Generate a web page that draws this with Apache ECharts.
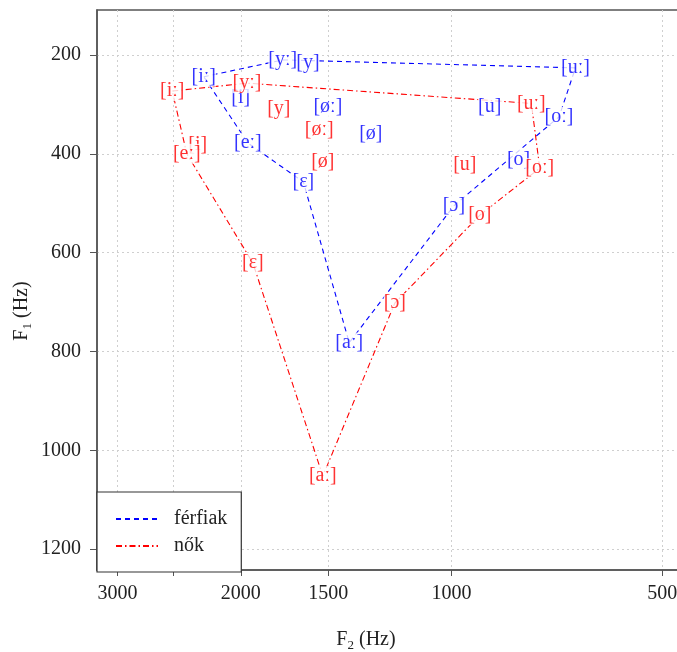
<!DOCTYPE html>
<html>
<head>
<meta charset="utf-8">
<script src="https://cdn.jsdelivr.net/npm/echarts@6/dist/echarts.min.js"></script>
<style>
  html, body { margin: 0; padding: 0; background: #fff; }
  #chart { width: 677px; height: 652px; }
</style>
</head>
<body>
<div id="chart"></div>
<script>
// Hungarian vowel formants: F2 and F1 in Hz, for men and women
const vowels = ['iː', 'i', 'yː', 'y', 'eː', 'ɛ', 'øː', 'ø', 'uː', 'u', 'oː', 'o', 'ɔ', 'aː'];

const menF2 = [2259, 2000, 1742, 1604, 1954, 1628, 1502, 1304, 665, 882, 702, 802, 992, 1400];
const menF1 = [244, 287, 210, 216, 378, 457, 305, 360, 226, 305, 325, 412, 505, 782];

const womenF2 = [2506, 2304, 1960, 1765, 2389, 1922, 1545, 1527, 769, 957, 748, 911, 1205, 1527];
const womenF1 = [273, 382, 257, 309, 400, 621, 352, 416, 298, 423, 429, 524, 702, 1052];

// vowel outlines, traced in order and closed
const menOutline = ['iː', 'yː', 'uː', 'oː', 'ɔ', 'aː', 'ɛ', 'eː', 'iː'];
const womenOutline = ['iː', 'yː', 'uː', 'oː', 'o', 'ɔ', 'aː', 'ɛ', 'eː', 'iː'];

const groupNames = ['férfiak', 'nők'];

// axis ticks
const f2Ticks = [500, 1000, 1500, 2000, 2500, 3000];
const f2Labels = [500, 1000, 1500, 2000, 3000];
const f1Ticks = [200, 400, 600, 800, 1000, 1200];

const BLUE = '#0000ff';
const RED = '#ff0000';
const FONT = '"Liberation Serif", "Times New Roman", serif';

function outlinePoints(order, f2, f1) {
  return order.map(v => {
    const k = vowels.indexOf(v);
    return [f2[k], f1[k]];
  });
}
function labelPoints(f2, f1) {
  return vowels.map((v, k) => ({ value: [f2[k], f1[k]], name: '[' + v + ']' }));
}

function labelSeries(name, f2, f1, color) {
  return {
    name: name,
    type: 'scatter',
    z: 4,
    symbolSize: 0,
    silent: true,
    data: labelPoints(f2, f1),
    label: {
      show: true,
      position: 'inside',
      formatter: p => p.name,
      color: color,
      fontFamily: FONT,
      fontSize: 20,
      backgroundColor: '#fff',
      padding: [0, 0, 0, 0]
    },
    labelLayout: { hideOverlap: false }
  };
}

const plain = v => String(v);

const chart = echarts.init(document.getElementById('chart'), null, { renderer: 'canvas' });

chart.setOption({
  animation: false,
  backgroundColor: '#fff',
  grid: {
    left: 97, top: 10, width: 584, height: 560,
    outerBoundsMode: 'none',
    containLabel: false,
    show: true, borderColor: '#555', borderWidth: 1.5, backgroundColor: 'transparent'
  },
  xAxis: {
    type: 'log',
    inverse: true,
    min: 470, max: 3210,
    axisLine: { show: true, lineStyle: { color: '#555', width: 1.5 } },
    axisTick: { show: true, length: 6, customValues: f2Ticks, lineStyle: { color: '#555' } },
    axisLabel: { customValues: f2Labels, formatter: plain, margin: 14, color: '#222', fontFamily: FONT, fontSize: 20 },
    splitLine: { show: true, lineStyle: { color: '#cfcfcf', type: [2, 3], width: 1 } },
    minorTick: { show: false }
  },
  yAxis: {
    type: 'value',
    inverse: true,
    min: 109, max: 1242,
    axisLine: { show: true, lineStyle: { color: '#555', width: 1.5 } },
    axisTick: { show: true, length: 7, customValues: f1Ticks, lineStyle: { color: '#555' } },
    axisLabel: { customValues: f1Ticks, formatter: plain, margin: 16, color: '#222', fontFamily: FONT, fontSize: 20 },
    splitLine: { show: true, lineStyle: { color: '#cfcfcf', type: [2, 3], width: 1 } }
  },
  legend: {
    data: groupNames,
    orient: 'vertical',
    left: 97, top: 492,
    backgroundColor: '#fff',
    borderColor: '#333', borderWidth: 1.2,
    padding: [17, 14, 16, 18],
    itemWidth: 42, itemHeight: 14, itemGap: 7,
    itemStyle: { color: 'transparent', borderWidth: 0, opacity: 0 },
    textStyle: { fontFamily: FONT, fontSize: 20, color: '#222', padding: [0, 0, 0, 11] }
  },
  graphic: [
    {
      type: 'text', x: 366, y: 640,
      style: {
        text: '{a|F}{s|2}{a| (Hz)}',
        align: 'center', verticalAlign: 'middle',
        rich: {
          a: { fontFamily: FONT, fontSize: 20, lineHeight: 24, fill: '#222' },
          s: { fontFamily: FONT, fontSize: 13, lineHeight: 13, verticalAlign: 'bottom', fill: '#222' }
        }
      }
    },
    {
      type: 'text', x: 22, y: 311, rotation: Math.PI / 2,
      style: {
        text: '{a|F}{s|1}{a| (Hz)}',
        align: 'center', verticalAlign: 'middle',
        rich: {
          a: { fontFamily: FONT, fontSize: 20, lineHeight: 24, fill: '#222' },
          s: { fontFamily: FONT, fontSize: 13, lineHeight: 13, verticalAlign: 'bottom', fill: '#222' }
        }
      }
    }
  ],
  series: [
    {
      name: groupNames[0],
      type: 'line',
      z: 2,
      symbol: 'none',
      color: BLUE,
      lineStyle: { color: BLUE, width: 1.1, type: [5, 4] },
      data: outlinePoints(menOutline, menF2, menF1)
    },
    {
      name: groupNames[1],
      type: 'line',
      z: 2,
      symbol: 'none',
      color: RED,
      lineStyle: { color: RED, width: 1.1, type: [6, 3, 1.5, 3] },
      data: outlinePoints(womenOutline, womenF2, womenF1)
    },
    labelSeries('férfiak címkék', menF2, menF1, BLUE),
    labelSeries('nők címkék', womenF2, womenF1, RED)
  ]
});
</script>
</body>
</html>
